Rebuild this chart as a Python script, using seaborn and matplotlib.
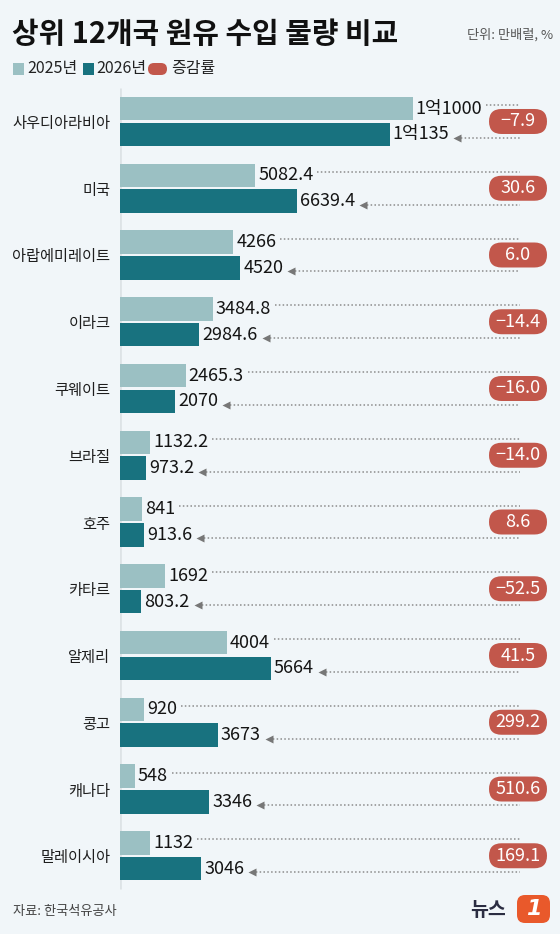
import numpy as np
import pandas as pd
import matplotlib
matplotlib.use('Agg')
import matplotlib.pyplot as plt
import seaborn as sns
from matplotlib.patches import FancyBboxPatch, Rectangle
from matplotlib.transforms import IdentityTransform

# ---------------- data ----------------
countries = ['사우디아라비아', '미국', '아랍에미레이트', '이라크', '쿠웨이트', '브라질',
             '호주', '카타르', '알제리', '콩고', '캐나다', '말레이시아']
years = ['2025년', '2026년']
v2025 = [11000, 5082.4, 4266, 3484.8, 2465.3, 1132.2, 841, 1692, 4004, 920, 548, 1132]
v2026 = [10135, 6639.4, 4520, 2984.6, 2070, 973.2, 913.6, 803.2, 5664, 3673, 3346, 3046]
labels2025 = ['1억1000', '5082.4', '4266', '3484.8', '2465.3', '1132.2', '841', '1692',
              '4004', '920', '548', '1132']
labels2026 = ['1억135', '6639.4', '4520', '2984.6', '2070', '973.2', '913.6', '803.2',
              '5664', '3673', '3346', '3046']
change = ['-7.9', '30.6', '6.0', '-14.4', '-16.0', '-14.0', '8.6', '-52.5',
          '41.5', '299.2', '510.6', '169.1']

title = '상위 12개국 원유 수입 물량 비교'
unit = '단위: 만배럴, %'
source = '자료: 한국석유공사'
legend_change = '증감률'

# ---------------- style ----------------
W, H, DPI = 560, 934, 100
BG = '#f1f6f9'
C25 = '#9bc0c3'
C26 = '#18727f'
RED = '#c2574b'
DOT = '#8c8c8c'

sns.set_style('white')
plt.rcParams['font.family'] = ['Noto Sans CJK KR', 'DejaVu Sans']

df = pd.DataFrame({
    'country': countries * 2,
    'year': [years[0]] * len(countries) + [years[1]] * len(countries),
    'value': v2025 + v2026,
})

fig = plt.figure(figsize=(W / DPI, H / DPI), dpi=DPI, facecolor=BG)
ax = fig.add_axes([120 / W, 0, 440 / W, 1])
ax.set_facecolor('none')

ax.plot([0, 0], [-0.5, len(countries) - 0.5], color='#dde3e6', lw=2, zorder=0,
        solid_capstyle='butt')

sns.barplot(data=df, x='value', y='country', hue='year', order=countries,
            hue_order=years, palette=[C25, C26], width=0.77, gap=0.08,
            saturation=1, legend=False, orient='h', errorbar=None,
            linewidth=0, ax=ax, zorder=2)

ax.set_xlim(0, 440 / 0.0266)
ax.set_ylim(12.172, -1.820)
for s in ax.spines.values():
    s.set_visible(False)
ax.set_xticks([])
ax.set_xlabel('')
ax.set_ylabel('')
ax.tick_params(axis='y', length=0, pad=7, labelsize=11, labelcolor='#1e1e1e')

# ---------------- value labels & dotted leaders ----------------
fig.canvas.draw()
rend = fig.canvas.get_renderer()
texts = []
for k, labs in enumerate([labels2025, labels2026]):
    for bar, lab in zip(ax.containers[k], labs):
        w = bar.get_width()
        yc = bar.get_y() + bar.get_height() / 2
        t = ax.annotate(lab, (w, yc), xytext=(3, 0), textcoords='offset pixels',
                        ha='left', va='center', fontsize=13, color='#141414')
        texts.append((k, t, w, yc))

fig.canvas.draw()
inv = ax.transData.inverted()
x_end = 520
for k, t, w, yc in texts:
    bb = t.get_window_extent(rend)
    ydisp = ax.transData.transform((w, yc))[1]
    if k == 0:
        xs, yl = bb.x1 + 4, ydisp + 3.5
    else:
        xs, yl = bb.x1 + 8, ydisp - 3.5
    (dx0, dy), (dx1, _) = inv.transform([(xs, yl), (x_end, yl)])
    ax.plot([dx0, dx1], [dy, dy], ls=(0, (1, 1.5)), lw=1.1, color=DOT, zorder=1)
    if k == 1:
        ax.plot([dx0], [dy], marker='<', ms=5.5, color='#777777', mec='none', zorder=1)

# ---------------- change pills ----------------
idt = IdentityTransform()
for i, c in enumerate(change):
    yd = ax.transData.transform((0, i))[1]
    p = FancyBboxPatch((489, yd - 12.5), 58, 25,
                       boxstyle='round,pad=0,rounding_size=12.5',
                       transform=idt, fc=RED, ec='none', zorder=5)
    fig.add_artist(p)
    fig.text(518, yd, c.replace('-', '\u2212'), transform=idt, ha='center',
             va='center', fontsize=13, color='white', zorder=6)

# ---------------- title, legend, notes ----------------
fig.text(12, H - 34, title, transform=idt, ha='left', va='center',
         fontsize=20.8, fontweight='bold', color='#111111')
fig.text(553, H - 35, unit, transform=idt, ha='right', va='center',
         fontsize=9.5, color='#555555')

ly = H - 69
fig.add_artist(Rectangle((13, ly - 6), 11, 12, transform=idt, fc=C25, ec='none'))
fig.text(27, ly, years[0], transform=idt, ha='left', va='center', fontsize=11.5,
         color='#222222')
fig.add_artist(Rectangle((83, ly - 6), 11, 12, transform=idt, fc=C26, ec='none'))
fig.text(96, ly, years[1], transform=idt, ha='left', va='center', fontsize=11.5,
         color='#222222')
fig.add_artist(FancyBboxPatch((148, ly - 6), 19, 12,
                              boxstyle='round,pad=0,rounding_size=6',
                              transform=idt, fc=RED, ec='none'))
fig.text(171, ly, legend_change, transform=idt, ha='left', va='center',
         fontsize=11.5, color='#222222')

fig.text(13, H - 911, source, transform=idt, ha='left', va='center',
         fontsize=9.5, color='#444444')

# logo
fig.text(488, H - 911, '뉴스', transform=idt, ha='center', va='center',
         fontsize=14, fontweight='bold', color='#2b2d42')
fig.add_artist(FancyBboxPatch((517, H - 923), 33, 28,
                              boxstyle='round,pad=0,rounding_size=8',
                              transform=idt, fc='#e9592b', ec='none'))
fig.text(533.5, H - 909, '1', transform=idt, ha='center', va='center',
         fontsize=16, fontweight='bold', fontstyle='italic', color='white',
         family=['DejaVu Sans'])

fig.savefig('out.png', dpi=DPI, facecolor=BG)
